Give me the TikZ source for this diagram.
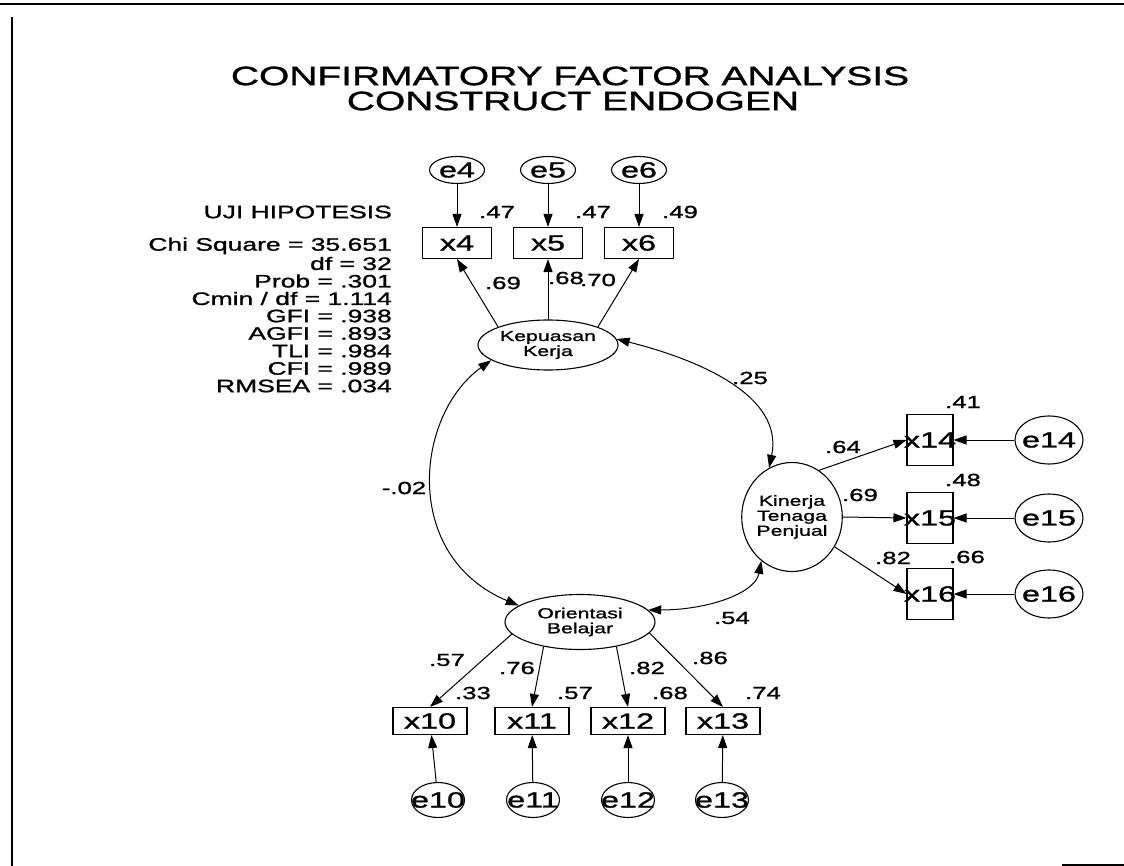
\documentclass[tikz,border=0pt]{standalone}
\usepackage{fontspec}
\setmainfont{Liberation Sans}[FakeStretch=1.47,FakeBold=1.2]
\usepackage{tikz}
\usetikzlibrary{arrows.meta,shapes.geometric}
\definecolor{cfaInk}{RGB}{0,0,0}
\definecolor{cfaWhite}{RGB}{255,255,255}
\newcommand\cfaflat[1]{\makebox[0pt]{#1}}
\tikzset{
  cfaobs/.style={draw=cfaInk,line width=1.1pt,inner sep=0pt,font=\fontsize{22}{22}\selectfont},
  cfaerr/.style={ellipse,draw=cfaInk,line width=1.1pt,inner sep=0pt,font=\fontsize{22}{22}\selectfont},
  cfalat/.style={ellipse,draw=cfaInk,line width=1.1pt,inner sep=0pt,align=center,font=\fontsize{14.5}{15}\selectfont},
  cfapath/.style={-{Triangle[length=13pt,width=9pt]},draw=cfaInk,line width=1pt},
  cfacov/.style={{Triangle[length=13pt,width=9pt]}-{Triangle[length=13pt,width=9pt]},draw=cfaInk,line width=1pt},
  cfanum/.style={font=\fontsize{17.5}{17.5}\selectfont,text=cfaInk,inner sep=0pt},
  cfastat/.style={font=\fontsize{18}{18}\selectfont,text=cfaInk,inner sep=0pt,anchor=east},
  cfatitle/.style={font=\fontsize{26.5}{26.5}\selectfont,text=cfaInk,inner sep=0pt},
  cfaframe/.style={draw=cfaInk,line width=2.5pt},
}
\begin{document}
\begin{tikzpicture}[x=1pt,y=-1pt]
  \useasboundingbox[fill=cfaWhite] (0,0) rectangle (1124,866);

  % Page frame remnants.
  \draw[cfaframe] (0,4) -- (1124,4);
  \draw[cfaframe] (12,17) -- (12,866);
  \draw[cfaframe] (1062,865) -- (1124,865);

  % Title.
  \node[cfatitle] (title1) at (570,76) {CONFIRMATORY FACTOR ANALYSIS};
  \node[cfatitle] (title2) at (573,101) {CONSTRUCT ENDOGEN};

  % Fit statistics.
  \node[cfastat] (uji) at (392,212) {UJI HIPOTESIS};
  \foreach \t [count=\i] in {Chi Square = 35.651, df = 32, Prob = .301,
      Cmin / df = 1.114, GFI = .938, AGFI = .893, TLI = .984, CFI = .989,
      RMSEA = .034}
    \node[cfastat] (stat\i) at (392,{228.5+17.5*\i}) {\t};

  % Latent constructs.
  \node[cfalat,minimum width=140pt,minimum height=50pt] (kep) at (548,345) {Kepuasan\\Kerja};
  \node[cfalat,minimum width=90pt,minimum height=109pt] (kin) at (792,517) {Kinerja\\Tenaga\\Penjual};
  \node[cfalat,minimum width=150pt,minimum height=55pt] (ori) at (580,622) {Orientasi\\Belajar};

  % Indicators of Kepuasan Kerja with their errors.
  \foreach \n/\x in {4/457,5/548,6/639} {
    \node[cfaobs,minimum width=69pt,minimum height=31pt] (x\n) at (\x,243) {\cfaflat{x\n}};
    \node[cfaerr,minimum width=55pt,minimum height=27pt] (e\n) at (\x,170) {\cfaflat{e\n}};
    \draw[cfapath] (e\n) -- (x\n);
  }
  \draw[cfapath] (kep.north west) -- (x4.south);
  \draw[cfapath] (kep.north) -- (x5.south);
  \draw[cfapath] (kep.north east) -- (x6.south);

  % Indicators of Kinerja Tenaga Penjual.
  \foreach \n/\y in {14/440,15/518,16/594} {
    \node[cfaobs,minimum width=46pt,minimum height=51pt] (x\n) at (930,\y) {\cfaflat{x\n}};
    \node[cfaerr,minimum width=68pt,minimum height=48pt] (e\n) at (1049,\y) {\cfaflat{e\n}};
    \draw[cfapath] (e\n) -- (x\n.east);
  }
  \draw[cfapath] (kin.60) -- (x14.west);
  \draw[cfapath] (kin.east) -- (x15.west);
  \draw[cfapath] (kin.-35) -- (x16.west);

  % Indicators of Orientasi Belajar.
  \foreach \n/\x/\ex in {10/430/438,11/532/533,12/628/628,13/723/722} {
    \node[cfaobs,minimum width=74pt,minimum height=27pt] (x\n) at (\x,721) {\cfaflat{x\n}};
    \node[cfaerr,minimum width=53pt,minimum height=35pt] (e\n) at (\ex,800) {\cfaflat{e\n}};
    \draw[cfapath] (e\n) -- (x\n);
  }
  \draw[cfapath] (ori.190) -- (x10.north);
  \draw[cfapath] (ori.214) -- (x11.north);
  \draw[cfapath] (ori.-34) -- (x12.north);
  \draw[cfapath] (ori.-9) -- (x13.north);

  % Covariances between constructs.
  \draw[cfacov] (kep.195) .. controls (415,415) and (401,556) .. (ori.165);
  \draw[cfacov] (kep.5) .. controls (700,360) and (784,396) .. (kin.115);
  \draw[cfacov] (ori.10) .. controls (706,610) and (755,594) .. (kin.235);

  % Estimates.
  \node[cfanum] (r4) at (497,212) {.47};
  \node[cfanum] (r5) at (593,212) {.47};
  \node[cfanum] (r6) at (680,212) {.49};
  \node[cfanum] (l4) at (503,283) {.69};
  \node[cfanum] (l5) at (566,278) {.68};
  \node[cfanum] (l6) at (598,280) {.70};
  \node[cfanum] (r14) at (963,402) {.41};
  \node[cfanum] (r15) at (963,480) {.48};
  \node[cfanum] (r16) at (967,557) {.66};
  \node[cfanum] (l14) at (843,447) {.64};
  \node[cfanum] (l15) at (860,495) {.69};
  \node[cfanum] (l16) at (893,558) {.82};
  \node[cfanum] (l10) at (447,660) {.57};
  \node[cfanum] (r10) at (473,693) {.33};
  \node[cfanum] (l11) at (517,668) {.76};
  \node[cfanum] (r11) at (575,693) {.57};
  \node[cfanum] (l12) at (647,668) {.82};
  \node[cfanum] (r12) at (670,693) {.68};
  \node[cfanum] (l13) at (710,658) {.86};
  \node[cfanum] (r13) at (763,693) {.74};
  \node[cfanum] (ckk) at (750,378) {.25};
  \node[cfanum] (cko) at (404,488) {-.02};
  \node[cfanum] (coi) at (732,618) {.54};
\end{tikzpicture}
\end{document}
